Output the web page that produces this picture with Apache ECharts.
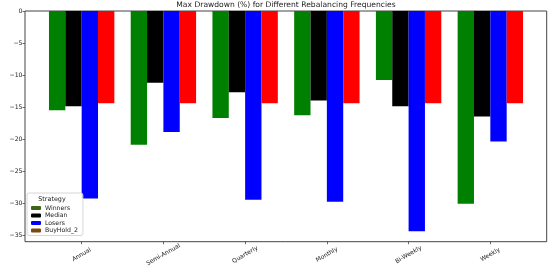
<!DOCTYPE html>
<html>
<head>
<meta charset="utf-8">
<script src="https://cdn.jsdelivr.net/npm/echarts@6/dist/echarts.min.js"></script>
<style>
  html, body { margin: 0; padding: 0; background: #fff; }
  #chart { width: 550px; height: 270px; }
</style>
</head>
<body>
<div id="chart"></div>
<script>
// Rebalancing frequencies (x categories)
const categories = ['Annual', 'Semi-Annual', 'Quarterly', 'Monthly', 'Bi-Weekly', 'Weekly'];

// Max drawdown per strategy, in %
const winners = [-15.5, -20.9, -16.7, -16.3, -10.8, -30.1];
const median = [-14.9, -11.2, -12.7, -14.0, -14.9, -16.5];
const losers = [-29.3, -18.9, -29.5, -29.8, -34.4, -20.4];
const buyHold2 = [-14.4, -14.4, -14.4, -14.4, -14.4, -14.4];

const Y_MIN = -35;
const Y_MAX = 0;

const FONT = 'DejaVu Sans';
const TEXT = '#222';
const AXIS = '#444';

// matplotlib uses a real minus sign on tick labels
const fmtMinus = (v) => String(Math.round(v)).replace('-', '\u2212');

function barSeries(name, data, color) {
  return {
    name,
    type: 'bar',
    xAxisIndex: 1,
    yAxisIndex: 1,
    data,
    barGap: '0%',
    barCategoryGap: '20%',
    itemStyle: { color },
    emphasis: { disabled: true },
  };
}

const hiddenValue = (gridIndex) => ({ gridIndex, type: 'value', show: false, min: 0, max: 1 });
// v6 grids shrink to keep labels on the canvas unless told not to
const gridBox = (box) => Object.assign({ outerBoundsMode: 'none', containLabel: false }, box);

const chart = echarts.init(document.getElementById('chart'), null, { renderer: 'canvas' });

chart.setOption({
  animation: false,
  backgroundColor: '#fff',
  textStyle: { fontFamily: FONT },
  title: [
    {
      text: 'Max Drawdown (%) for Different Rebalancing Frequencies',
      left: 286,
      top: 1,
      padding: 0,
      textAlign: 'center',
      textStyle: { fontSize: 7.6, fontWeight: 'normal', color: TEXT, fontFamily: FONT },
    },
    {
      text: 'Strategy',
      left: 52,
      top: 196,
      padding: 0,
      textAlign: 'center',
      textStyle: { fontSize: 6.4, fontWeight: 'normal', color: TEXT, fontFamily: FONT },
    },
  ],
  legend: {
    orient: 'vertical',
    left: 27,
    top: 193,
    padding: [12, 5, 2, 4],
    itemWidth: 10,
    itemHeight: 4,
    itemGap: 1.5,
    borderColor: '#ccc',
    borderWidth: 0.8,
    borderRadius: 2,
    backgroundColor: 'rgba(255,255,255,0.8)',
    textStyle: { fontSize: 6.2, color: TEXT, fontFamily: FONT, padding: [0, 0, 0, -1] },
    data: [
      { name: 'Winners', itemStyle: { color: '#3f6414' } },
      { name: 'Median', itemStyle: { color: '#000000' } },
      { name: 'Losers', itemStyle: { color: '#0000ff' } },
      { name: 'BuyHold_2', itemStyle: { color: '#7a4a12' } },
    ],
  },
  grid: [
    // 0: outer frame (matplotlib axes box)
    gridBox({ left: 25, right: 3.3, top: 11, bottom: 28.3, show: true, borderColor: AXIS, borderWidth: 1 }),
    // 1: bar area
    gridBox({ left: 40.8, right: 18.8, top: 11, bottom: 35 }),
    // 2: holds the visible y axis, same vertical span as the bars
    gridBox({ left: 25, right: 3.3, top: 11, bottom: 35 }),
    // 3: holds the visible x axis, same horizontal span as the bars
    gridBox({ left: 40.8, right: 18.8, top: 11, bottom: 28.3 }),
  ],
  xAxis: [
    hiddenValue(0),
    { gridIndex: 1, type: 'category', data: categories, show: false },
    hiddenValue(2),
    {
      gridIndex: 3,
      type: 'category',
      data: categories,
      axisLine: { show: false },
      axisTick: { show: true, alignWithLabel: true, length: 2.5, lineStyle: { color: AXIS, width: 0.8 } },
      axisLabel: {
        rotate: 30,
        align: 'center',
        verticalAlign: 'middle',
        margin: 13,
        fontSize: 6,
        color: TEXT,
        fontFamily: FONT,
      },
      splitLine: { show: false },
    },
  ],
  yAxis: [
    hiddenValue(0),
    { gridIndex: 1, type: 'value', min: Y_MIN, max: Y_MAX, show: false },
    {
      gridIndex: 2,
      type: 'value',
      min: Y_MIN,
      max: Y_MAX,
      interval: 5,
      name: 'Max Drawdown (%)',
      nameLocation: 'middle',
      nameRotate: 90,
      nameGap: 17,
      nameTextStyle: { fontSize: 6, color: TEXT, fontFamily: FONT },
      axisLine: { show: false },
      axisTick: { show: true, length: 2.5, lineStyle: { color: AXIS, width: 0.8 } },
      axisLabel: {
        fontSize: 6.2,
        color: TEXT,
        fontFamily: FONT,
        margin: 2.5,
        formatter: fmtMinus,
      },
      splitLine: { show: false },
    },
    hiddenValue(3),
  ],
  series: [
    barSeries('Winners', winners, '#008000'),
    barSeries('Median', median, '#000000'),
    barSeries('Losers', losers, '#0000ff'),
    barSeries('BuyHold_2', buyHold2, '#ff0000'),
  ],
});
</script>
</body>
</html>
